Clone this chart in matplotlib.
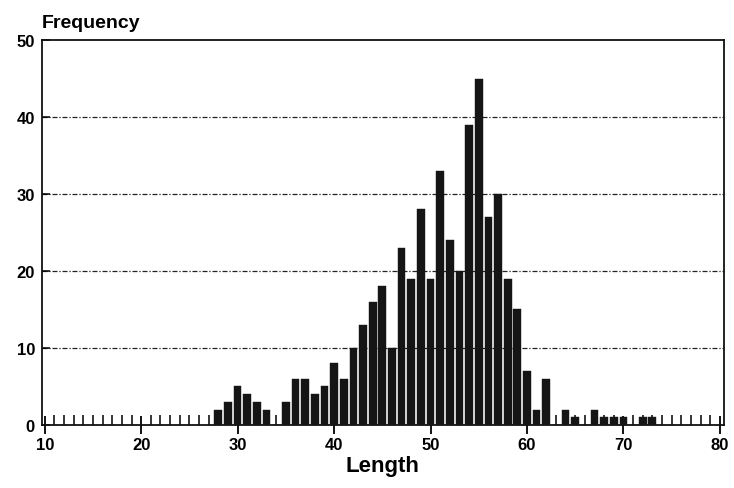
import numpy as np
import matplotlib
matplotlib.use('Agg')
import matplotlib.pyplot as plt
from matplotlib.ticker import MultipleLocator

# Length bins and frequencies
lengths = list(range(28, 74))
freq = [2, 3, 5, 4, 3, 2, 0, 3, 6, 6,
        4, 5, 8, 6, 10, 13, 16, 18, 10, 23,
        19, 28, 19, 33, 24, 20, 39, 45, 27, 30,
        19, 15, 7, 2, 6, 0, 2, 1, 0, 2,
        1, 1, 1, 0, 1, 1]

xticks = [10, 20, 30, 40, 50, 60, 70, 80]
yticks = [0, 10, 20, 30, 40, 50]

plt.rcParams['font.family'] = ['Liberation Sans', 'DejaVu Sans']
plt.rcParams['font.weight'] = 'bold'

fig = plt.figure(figsize=(7.34, 4.89), dpi=100)
ax = fig.add_axes([0.057, 0.129, 0.929, 0.787])

ax.bar(lengths, freq, width=0.8, color='#151515', edgecolor='#151515', linewidth=0.3, zorder=3)

# dash-dot grid lines
for yv in yticks[1:-1]:
    ax.axhline(yv, color='#222222', linewidth=0.9, linestyle=(0, (4, 1.5, 1, 1.5)), zorder=1)

ax.set_xlim(9.7, 80.4)
ax.set_ylim(0, 50)
ax.set_xticks(xticks)
ax.set_yticks(yticks)
ax.xaxis.set_minor_locator(MultipleLocator(1))
ax.tick_params(axis='x', which='major', direction='inout', length=13, width=1.3,
               labelsize=12, pad=2)
ax.tick_params(axis='x', which='minor', direction='in', length=7, width=1.1)
ax.tick_params(axis='y', which='major', direction='in', length=6, width=1.1,
               labelsize=12, pad=5)
for sp in ax.spines.values():
    sp.set_linewidth(1.3)
    sp.set_color('#111111')

for lab in ax.get_xticklabels() + ax.get_yticklabels():
    lab.set_fontweight('bold')

fig.text(0.057, 0.935, 'Frequency', fontsize=14, fontweight='bold', ha='left', va='bottom')
ax.set_xlabel('Length', fontsize=16, fontweight='bold', labelpad=2)

plt.savefig('out.png', dpi=100)
